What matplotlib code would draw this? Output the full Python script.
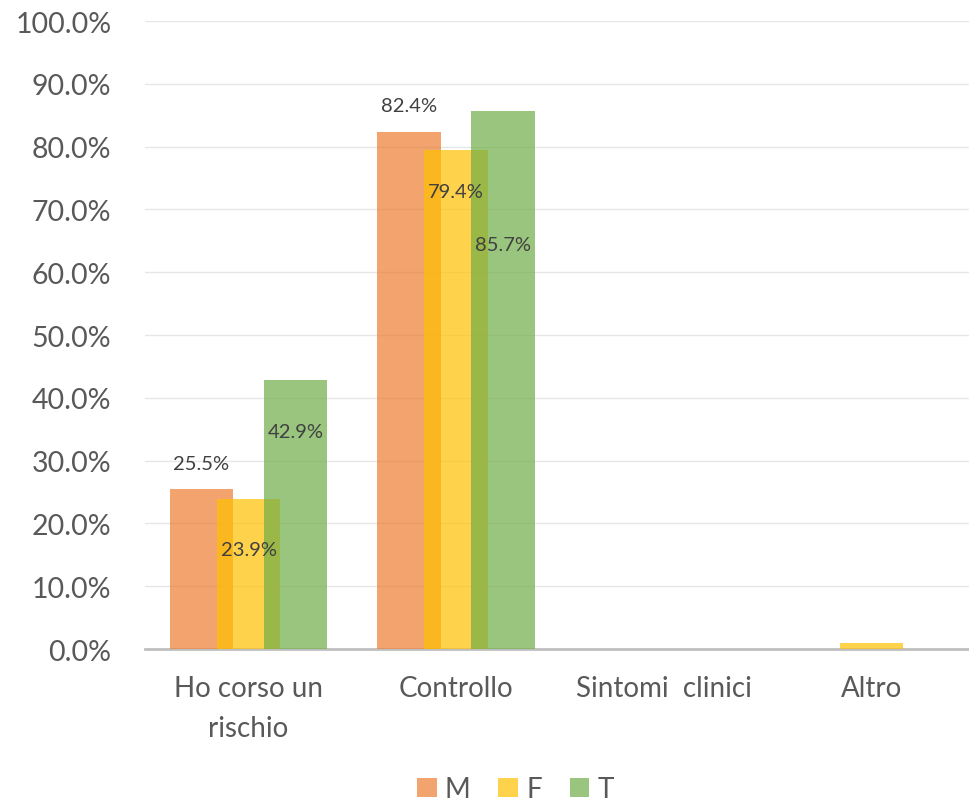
import matplotlib
matplotlib.use("Agg")
import matplotlib.pyplot as plt
import numpy as np

categories = ["Ho corso un\nrischio", "Controllo", "Sintomi  clinici", "Altro"]
series_names = ["M", "F", "T"]
M = [25.5, 82.4, 0.0, 0.0]
F = [23.9, 79.4, 0.0, 0.9]
T = [42.9, 85.7, 0.0, 0.0]
yticks = [0, 10, 20, 30, 40, 50, 60, 70, 80, 90, 100]

colors = ["#ED7D31", "#FFC000", "#70AD47"]
alpha = 0.7
# label vertical placement (data units) for non-zero values
label_y = {(0, 0): 29.5, (1, 0): 15.9, (2, 0): 34.6,
           (0, 1): 86.6, (1, 1): 72.9, (2, 1): 64.5}

plt.rcParams["font.family"] = ["Lato", "DejaVu Sans"]

fig = plt.figure(figsize=(9.69, 8.04), dpi=100)
ax = fig.add_axes([0.1494, 0.1915, 0.8566, 0.781])

x = np.arange(len(categories))
width = 0.304
step = 0.2265
for i, (vals, c, name) in enumerate(zip([M, F, T], colors, series_names)):
    xs = x + (i - 1) * step
    ax.bar(xs, vals, width=width, color=c, alpha=alpha, label=name, zorder=2 + i, linewidth=0)
    for j, v in enumerate(vals):
        if (i, j) in label_y:
            ax.text(xs[j], label_y[(i, j)], f"{v:.1f}%", ha="center", va="center",
                    fontsize=14.5, color="#404040", zorder=10)

ax.set_ylim(0, 100)
ax.set_xlim(-0.5, 3.5)
ax.set_yticks(yticks)
ax.set_yticklabels([f"{t:.1f}%" for t in yticks], fontsize=20.5, color="#595959")
ax.set_xticks(x)
ax.set_xticklabels(categories, fontsize=20, color="#595959", linespacing=1.65)
ax.tick_params(axis="both", length=0)
ax.tick_params(axis="x", pad=19)
ax.tick_params(axis="y", pad=24)
ax.grid(axis="y", color="#E6E6E6", linewidth=1, zorder=0)
ax.set_axisbelow(True)
for s in ["top", "right", "left"]:
    ax.spines[s].set_visible(False)
ax.spines["bottom"].set_color("#BFBFBF")
ax.spines["bottom"].set_linewidth(2)
ax.spines["bottom"].set_zorder(1)

leg = fig.legend(loc="center", bbox_to_anchor=(0.532, 0.017), ncol=3, frameon=False,
                 fontsize=20, handlelength=0.7, handleheight=0.7, columnspacing=1.0,
                 handletextpad=0.3)
for t in leg.get_texts():
    t.set_color("#595959")

fig.savefig("out.png", dpi=100)
